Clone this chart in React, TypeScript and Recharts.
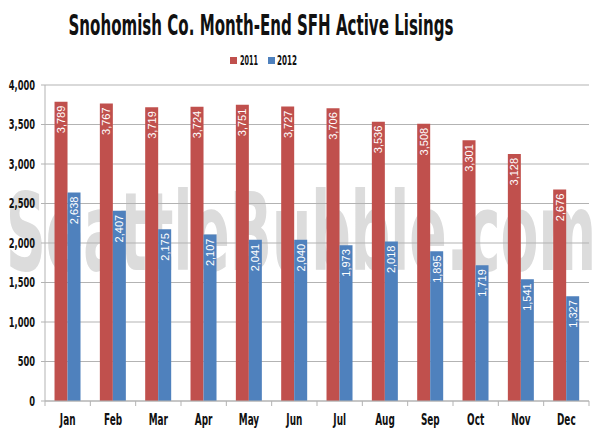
import { BarChart, Bar, XAxis, YAxis, CartesianGrid, Legend, LabelList } from 'recharts'

const months = ['Jan', 'Feb', 'Mar', 'Apr', 'May', 'Jun', 'Jul', 'Aug', 'Sep', 'Oct', 'Nov', 'Dec']
const listings2011 = [3789, 3767, 3719, 3724, 3751, 3727, 3706, 3536, 3508, 3301, 3128, 2676]
const listings2012 = [2638, 2407, 2175, 2107, 2041, 2040, 1973, 2018, 1895, 1719, 1541, 1327]
const yTicks = [0, 500, 1000, 1500, 2000, 2500, 3000, 3500, 4000]

const data = months.map((m, i) => ({ month: m, y2011: listings2011[i], y2012: listings2012[i] }))

const RED = '#C0504D'
const BLUE = '#4F81BD'
const GRID = '#b3b3b3'
const narrow = '"DejaVu Sans Condensed", "Liberation Sans", sans-serif'
const fmt = new Intl.NumberFormat('en-US')

// squeeze the condensed font further, the original uses a gothic display face
const SQUEEZE = 0.66

const MonthTick = (props: any) => {
  const { x, y, payload, index } = props
  const half = payload.offset || 22.7
  return (
    <g>
      <line x1={x - half} x2={x - half} y1={y} y2={y + 5} stroke={GRID} />
      {index === months.length - 1 && <line x1={x + half} x2={x + half} y1={y} y2={y + 5} stroke={GRID} />}
      <text transform={`translate(${x}, ${y + 24}) scale(${SQUEEZE}, 1)`} textAnchor="middle" fontFamily={narrow}
        fontWeight="bold" fontSize={15} fill="#111">
        {payload.value}
      </text>
    </g>
  )
}

const ValueTick = (props: any) => {
  const { x, y, payload } = props
  return (
    <text transform={`translate(${x}, ${y}) scale(${SQUEEZE}, 1)`} textAnchor="end" dominantBaseline="central"
      fontFamily={narrow} fontWeight="bold" fontSize={14} fill="#111">
      {fmt.format(payload.value)}
    </text>
  )
}

const BarValue = (props: any) => {
  const { x, y, width, value } = props
  const cx = x + width / 2
  const ty = y + 4
  return (
    <text x={cx} y={ty} transform={`rotate(-90, ${cx}, ${ty})`} textAnchor="end" dominantBaseline="central"
      fontFamily='"Liberation Sans", Arial, sans-serif' fontSize={11} fill="#fff">
      {fmt.format(value)}
    </text>
  )
}

const LegendBox = () => (
  <svg width={522} height={16} style={{ display: 'block' }}>
    <rect x={230} y={5} width={7} height={7} fill={RED} />
    <text x={240} y={13} textLength={18} lengthAdjust="spacingAndGlyphs" fontFamily={narrow} fontWeight="bold"
      fontSize={14} fill="#111">2011</text>
    <rect x={268} y={5} width={7} height={7} fill={BLUE} />
    <text x={277} y={13} textLength={20} lengthAdjust="spacingAndGlyphs" fontFamily={narrow} fontWeight="bold"
      fontSize={14} fill="#111">2012</text>
  </svg>
)

export default function App() {
  return (
    <div style={{ position: 'absolute', left: 0, top: 0, width: 600, height: 436, background: '#fff', overflow: 'hidden' }}>
      <svg width={600} height={436} style={{ position: 'absolute', left: 0, top: 0 }}>
        <text x={6} y={270} textLength={590} lengthAdjust="spacingAndGlyphs" fontFamily={narrow} fontWeight="bold"
          fontSize={108} fill="#dcdcdc">
          SeattleBubble.com
        </text>
        <text x={261} y={35} textAnchor="middle" textLength={385} lengthAdjust="spacingAndGlyphs" fontFamily={narrow}
          fontWeight="bold" fontSize={29} fill="#111">
          Snohomish Co. Month-End SFH Active Lisings
        </text>
      </svg>
      <div style={{ position: 'absolute', left: 0, top: 0 }}>
        <BarChart width={600} height={436} data={data} margin={{ top: 85, right: 11, left: 0, bottom: 5 }}
          barCategoryGap="21%" barGap={0}>
          <CartesianGrid vertical={false} stroke={GRID} />
          <XAxis dataKey="month" height={30} stroke={GRID} tickLine={false} tickSize={0} tickMargin={0}
            tick={<MonthTick />} interval={0} />
          <YAxis width={45} domain={[0, 4000]} ticks={yTicks} stroke={GRID} tickSize={4} tickMargin={6}
            tick={<ValueTick />} />
          <Legend verticalAlign="middle" align="center" layout="horizontal" content={<LegendBox />}
            wrapperStyle={{ top: 52, left: 0, width: 522 }} />
          <Bar dataKey="y2011" name="2011" fill={RED} isAnimationActive={false}>
            <LabelList dataKey="y2011" content={<BarValue />} />
          </Bar>
          <Bar dataKey="y2012" name="2012" fill={BLUE} isAnimationActive={false}>
            <LabelList dataKey="y2012" content={<BarValue />} />
          </Bar>
        </BarChart>
      </div>
    </div>
  )
}
